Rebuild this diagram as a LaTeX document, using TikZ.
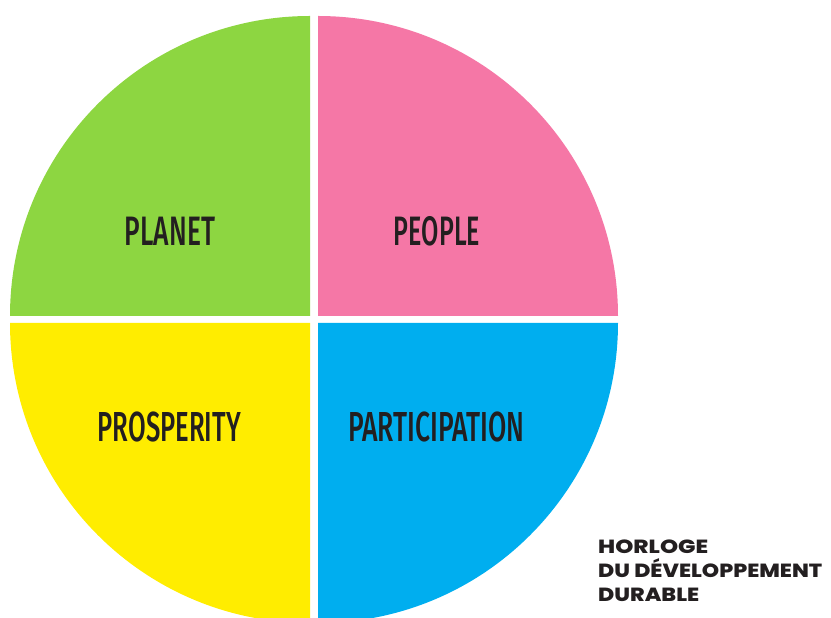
\documentclass[tikz,border=0pt]{standalone}
\usepackage{fontspec}
\usepackage{graphicx}
\setmainfont{Fira Sans}
\newfontfamily\lblfont{Fira Sans}[UprightFont={* Medium}]
\newfontfamily\footfont{Poppins}[UprightFont={* ExtraBold}]
\definecolor{cgreen}{HTML}{8DD641}
\definecolor{cpink}{HTML}{F577A6}
\definecolor{cyellow}{HTML}{FFED00}
\definecolor{cblue}{HTML}{00AEEF}
\definecolor{ink}{HTML}{231F20}
% fit all-caps text to a given width and cap height
\newcommand{\fitcaps}[3]{\resizebox{#1}{#2}{\raisebox{0pt}[\fontcharht\font`H][0pt]{#3}}}
\begin{document}
\begin{tikzpicture}[x=1pt,y=1pt,
  quad/.style={draw=none},
  lbl/.style={inner sep=0pt, anchor=base, text=ink, font=\lblfont},
  foot/.style={inner sep=0pt, anchor=base west, text=ink, font=\footfont}]
\useasboundingbox (0,0) rectangle (831,618);
\clip (0,0) rectangle (831,618);
% quadrants (corner points at the gaps)
\coordinate (cg) at (310,302);
\coordinate (cp) at (318,302);
\coordinate (cy) at (310,295);
\coordinate (cb) at (318,295);
\fill[cgreen,quad]  (cg) -- ++(-300,0) arc[start angle=180,end angle=90,radius=300] -- cycle;
\fill[cpink,quad]   (cp) -- ++(0,300) arc[start angle=90,end angle=0,radius=300] -- cycle;
\fill[cyellow,quad] (cy) -- ++(-300,0) arc[start angle=180,end angle=270,radius=300] -- cycle;
\fill[cblue,quad]   (cb) -- ++(0,-300) arc[start angle=270,end angle=360,radius=300] -- cycle;
% labels
\node[lbl] (planet) at (170,372.5) {\fitcaps{90pt}{28.4pt}{PLANET}};
\node[lbl] (people) at (437,372.5) {\fitcaps{86pt}{28.4pt}{PEOPLE}};
\node[lbl] (prosperity) at (169.3,176.5) {\fitcaps{143pt}{29pt}{PROSPERITY}};
\node[lbl] (participation) at (436.2,176.5) {\fitcaps{176pt}{29pt}{PARTICIPATION}};
% caption
\node[foot] (l1) at (598,64) {\fitcaps{110pt}{13.5pt}{HORLOGE}};
\node[foot] (l2) at (598,40) {\fitcaps{224pt}{13.5pt}{DU DÉVELOPPEMENT}};
\node[foot] (l3) at (598,16) {\fitcaps{101pt}{13.5pt}{DURABLE}};
\end{tikzpicture}
\end{document}
